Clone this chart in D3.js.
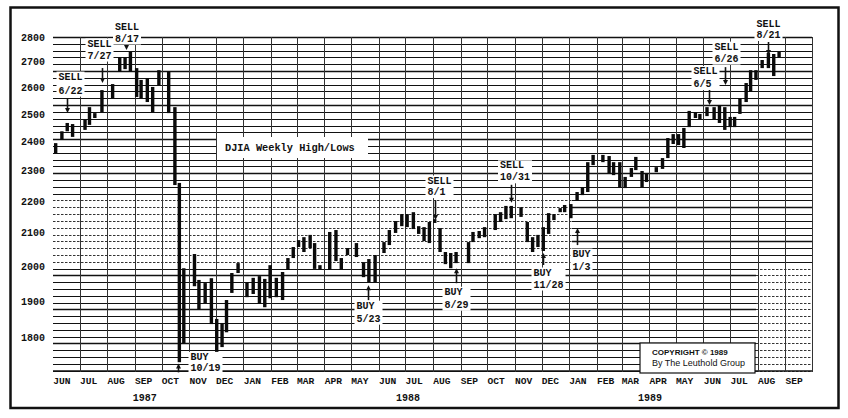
<!DOCTYPE html>
<html>
<head>
<meta charset="utf-8">
<script src="https://cdn.jsdelivr.net/npm/d3@7"></script>
<style>
  body { margin: 0; background: #fff; }
  svg text { font-family: "Liberation Mono", "DejaVu Sans Mono", monospace; font-weight: bold; fill: #111; }
</style>
</head>
<body>
<svg id="chart" width="848" height="418"></svg>
<script>
// DJIA weekly high/lows, Jun 1987 - Aug 1989 (Leuthold Group chart)

// weekly bars: date, weekly high, weekly low
const weeks = [
  '1987-06-04','1987-06-11','1987-06-17','1987-06-23','1987-07-07','1987-07-12','1987-07-18','1987-07-26',
  '1987-08-07','1987-08-15','1987-08-21','1987-08-27','1987-09-03','1987-09-08','1987-09-15','1987-09-21',
  '1987-09-28','1987-10-09','1987-10-16','1987-10-21','1987-10-26','1987-11-07','1987-11-12','1987-11-19',
  '1987-11-26','1987-12-02','1987-12-08','1987-12-13','1987-12-19','1987-12-26',
  '1988-01-05','1988-01-12','1988-01-19','1988-01-25','1988-01-31','1988-02-07','1988-02-14','1988-02-20',
  '1988-02-26','1988-03-03','1988-03-09','1988-03-16','1988-03-21','1988-03-27','1988-04-07','1988-04-14',
  '1988-04-20','1988-04-27','1988-05-07','1988-05-15','1988-05-21','1988-05-28','1988-06-07','1988-06-13',
  '1988-06-20','1988-06-27','1988-07-03','1988-07-10','1988-07-16','1988-07-22','1988-07-28','1988-08-03',
  '1988-08-09','1988-08-15','1988-08-21','1988-08-27','1988-09-10','1988-09-15','1988-09-22','1988-09-28',
  '1988-10-10','1988-10-16','1988-10-22','1988-10-28','1988-11-08','1988-11-15','1988-11-21','1988-11-27',
  '1988-12-03','1988-12-09','1988-12-15','1988-12-22','1988-12-27',
  '1989-01-03','1989-01-10','1989-01-16','1989-01-22','1989-01-28','1989-02-08','1989-02-15','1989-02-20',
  '1989-02-27','1989-03-05','1989-03-12','1989-03-17','1989-03-24','1989-03-29','1989-04-09','1989-04-16',
  '1989-04-22','1989-04-28','1989-05-04','1989-05-10','1989-05-16','1989-05-23','1989-05-28','1989-06-05',
  '1989-06-13','1989-06-19','1989-06-25','1989-07-01','1989-07-06','1989-07-12','1989-07-19','1989-07-24',
  '1989-07-30','1989-08-06','1989-08-13','1989-08-19','1989-08-25'
];
const highs = [
  2396,2438,2468,2464,2479,2526,2504,2590, 2613,2719,2719,2739,2675,2629,2636,2602,
  2667,2660,2526,2260,1994,2036,1960,1951, 1965,1851,1840,1903,1980,2009,
  1954,1966,1971,1963,2003,1966,1983,2024, 2057,2078,2087,2094,2069,2003,2103,2109,
  2024,2054,2069,2012,2021,2033,2072,2109, 2137,2159,2159,2165,2121,2118,2134,2143,
  2115,2042,2039,2042,2072,2103,2106,2118, 2159,2165,2185,2185,2181,2134,2087,2094,
  2118,2162,2159,2178,2188,
  2191,2230,2246,2330,2355,2355,2351,2330, 2330,2280,2310,2348,2300,2290,2313,2344,
  2414,2428,2428,2450,2512,2508,2501,2526, 2526,2534,2526,2490,2490,2560,2617,2667,
  2667,2707,2735,2731,2739
];
const lows = [
  2361,2407,2438,2418,2443,2461,2486,2508, 2560,2660,2671,2660,2564,2560,2545,2508,
  2609,2504,2253,1737,1786,1942,1878,1894, 1837,1760,1776,1815,1923,1980,
  1911,1920,1892,1883,1908,1911,1903,1989, 2024,2057,2042,2054,1992,1989,1989,2015,
  1989,2033,2027,1968,1954,1954,2039,2063, 2100,2121,2118,2112,2097,2075,2069,2131,
  2042,2006,1994,2009,2009,2072,2084,2087, 2109,2134,2143,2146,2150,2072,2042,2057,
  2045,2097,2140,2165,2165,
  2146,2201,2220,2230,2320,2330,2293,2286, 2246,2243,2280,2303,2246,2263,2296,2307,
  2344,2393,2389,2379,2453,2486,2482,2493, 2482,2468,2443,2453,2453,2501,2545,2583,
  2629,2675,2675,2644,2715
];

// buy / sell signals: label, date the arrow sits on, price at the arrow tip
const signalTypes = ['SELL','SELL','SELL','BUY','BUY','SELL','BUY','SELL','BUY','BUY','SELL','SELL','SELL'];
const signalLabels = ['6/22','7/27','8/17','10/19','5/23','8/1','8/29','10/31','11/28','1/3','6/5','6/26','8/21'];
const signalDates = ['1987-06-17','1987-07-26','1987-08-22','1987-10-20','1988-05-20','1988-08-03','1988-08-27',
                     '1988-10-28','1988-12-03','1989-01-10','1989-06-07','1989-06-25','1989-08-13'];
const signalLevels = [2504,2617,2747,1734,1945,2140,1994,2195,2039,2115,2534,2609,2727];

// axis labels
const yTicks = [1800,1900,2000,2100,2200,2300,2400,2500,2600,2700,2800];
const months = ['JUN','JUL','AUG','SEP','OCT','NOV','DEC','JAN','FEB','MAR','APR','MAY','JUN','JUL',
                'AUG','SEP','OCT','NOV','DEC','JAN','FEB','MAR','APR','MAY','JUN','JUL','AUG','SEP'];
const years = ['1987','1988','1989'];

// ---- layout (not data) ----
const plotLeft = 53, plotRight = 812, plotTop = 37;
const parse = d3.timeParse('%Y-%m-%d');

// arrow length, label offset from arrow, line gap
const signalLayout = {
  '6/22':  { len: 15, dx: -9,    dy: -4.5,  gap: 14 },
  '7/27':  { len: 15, dx: -15,   dy: -9.5,  gap: 12 },
  '8/17':  { len: 8,  dx: -11.5, dy: -0.5,  gap: 11.5 },
  '10/19': { len: 9,  dx: 12,    dy: -12.5, gap: 11 },
  '5/23':  { len: 15, dx: -12,   dy: 8.5,   gap: 13 },
  '8/1':   { len: 20, dx: -8,    dy: -5,    gap: 11.5 },
  '8/29':  { len: 15, dx: -12,   dy: 11.5,  gap: 13 },
  '10/31': { len: 18, dx: -11.5, dy: -4.5,  gap: 12 },
  '11/28': { len: 12, dx: -10,   dy: 10.5,  gap: 12 },
  '1/3':   { len: 17, dx: -5,    dy: 11.5,  gap: 13 },
  '6/5':   { len: 17, dx: -16,   dy: -1,    gap: 13 },
  '6/26':  { len: 18, dx: -11,   dy: -5.5,  gap: 12 },
  '8/21':  { len: 13, dx: -12,   dy: -4,    gap: 10.5 }
};
const yearLabelAt = { '1987': '1987-09-12', '1988': '1988-07-04', '1989': '1989-04-02' };

const x = d3.scaleTime()
  .domain([new Date(1987, 5, 1), new Date(1989, 9, 1)])
  .range([plotLeft, plotRight]);

const y = d3.scaleLog()
  .domain([1720, 2800])
  .range([368.9, plotTop]);

const svg = d3.select('svg#chart');
svg.append('rect').attr('width', 848).attr('height', 418).attr('fill', '#fff');

// ---- grid paper: horizontal rules at ~1% steps ----
const gridVals = d3.range(50).map(k => 2800 * Math.exp(-k / 100));
const grid = svg.append('g').attr('class', 'grid');

gridVals.forEach(function (v, k) {
  const gy = Math.round(y(v)) + 0.5;
  const heavy = (k % 5 === 0);
  let segs;
  if (gy > 196 && gy < 266) {
    segs = [[plotLeft, 572, true], [572, plotRight, false]];   // faded band in the scan
  } else if (gy >= 266) {
    segs = [[plotLeft, 756, false], [756, plotRight, true]];
  } else {
    segs = [[plotLeft, plotRight, false]];
  }
  segs.forEach(function (s) {
    grid.append('line')
      .attr('x1', s[0]).attr('x2', s[1])
      .attr('y1', gy).attr('y2', gy)
      .attr('stroke', s[2] ? '#333' : '#111')
      .attr('stroke-width', s[2] ? 1 : (heavy ? 1.6 : 1.2))
      .attr('stroke-dasharray', s[2] ? '2.5,1.5' : null);
  });
});

// bottom rule
grid.append('line')
  .attr('x1', plotLeft).attr('x2', plotRight)
  .attr('y1', 371).attr('y2', 371)
  .attr('stroke', '#111').attr('stroke-width', 1.6);

// vertical month rules
const monthLines = d3.timeMonth.range(new Date(1987, 6, 1), new Date(1989, 9, 2));
grid.selectAll('line.month')
  .data(monthLines)
  .enter()
  .append('line')
  .attr('class', 'month')
  .attr('x1', d => Math.round(x(d)) + 0.5)
  .attr('x2', d => Math.round(x(d)) + 0.5)
  .attr('y1', plotTop)
  .attr('y2', 372)
  .attr('stroke', '#333')
  .attr('stroke-width', 1);

// ---- title ----
svg.append('rect')
  .attr('x', 217).attr('y', 137).attr('width', 151).attr('height', 21)
  .attr('fill', '#fff');
svg.append('text')
  .attr('x', 225).attr('y', 151)
  .attr('font-size', 10.3)
  .text('DJIA Weekly High/Lows');

// ---- copyright box ----
svg.append('rect')
  .attr('x', 640).attr('y', 343).attr('width', 115).attr('height', 30)
  .attr('fill', '#fff').attr('stroke', '#111').attr('stroke-width', 1.2);
svg.append('text')
  .attr('x', 652).attr('y', 354.5)
  .style('font-family', '"Liberation Sans", Arial, sans-serif')
  .attr('font-size', 8)
  .text('COPYRIGHT \u00A9 1989');
svg.append('text')
  .attr('x', 652).attr('y', 366)
  .style('font-family', '"Liberation Sans", Arial, sans-serif')
  .style('font-weight', 'normal')
  .attr('font-size', 9)
  .text('By The Leuthold Group');

// ---- weekly bars ----
const bars = weeks.map((w, i) => ({ date: parse(w), hi: highs[i], lo: lows[i] }));

svg.append('g')
  .selectAll('rect')
  .data(bars)
  .enter()
  .append('rect')
  .attr('x', d => x(d.date) - 1.7)
  .attr('width', 3.4)
  .attr('y', d => y(d.hi))
  .attr('height', d => Math.max(2, y(d.lo) - y(d.hi)))
  .attr('fill', '#0a0a0a');

// ---- signals ----
const signals = signalLabels.map((s, i) => ({
  type: signalTypes[i], label: s, date: parse(signalDates[i]), level: signalLevels[i]
}));

const sig = svg.append('g').attr('class', 'signals');

signals.forEach(function (d) {
  const lay = signalLayout[d.label];
  const ax = Math.round(x(d.date)) + 0.5;
  const tip = y(d.level);
  const g = sig.append('g');
  let tail, b1, b2;
  if (d.type === 'SELL') {
    tail = tip - lay.len;
    b2 = tail + lay.dy;
    b1 = b2 - lay.gap;
    g.append('line').attr('x1', ax).attr('x2', ax).attr('y1', tail).attr('y2', tip - 3)
      .attr('stroke', '#111').attr('stroke-width', 1.6);
    g.append('path')
      .attr('d', 'M' + (ax - 2.5) + ',' + (tip - 5) + 'L' + (ax + 2.5) + ',' + (tip - 5) + 'L' + ax + ',' + tip + 'Z')
      .attr('fill', '#111');
  } else {
    tail = tip + lay.len;
    b1 = tail + lay.dy;
    b2 = b1 + lay.gap;
    g.append('line').attr('x1', ax).attr('x2', ax).attr('y1', tail).attr('y2', tip + 3)
      .attr('stroke', '#111').attr('stroke-width', 1.6);
    g.append('path')
      .attr('d', 'M' + (ax - 2.5) + ',' + (tip + 5) + 'L' + (ax + 2.5) + ',' + (tip + 5) + 'L' + ax + ',' + tip + 'Z')
      .attr('fill', '#111');
  }
  const lbl = g.append('g');
  const bg = lbl.append('rect').attr('fill', '#fff');
  lbl.append('text').attr('x', ax + lay.dx).attr('y', b1).attr('font-size', 10).text(d.type);
  lbl.append('text').attr('x', ax + lay.dx).attr('y', b2).attr('font-size', 10).text(d.label);
  const bb = lbl.node().getBBox();
  bg.attr('x', bb.x - 2).attr('y', bb.y).attr('width', bb.width + 4).attr('height', bb.height);
});

// ---- y axis labels ----
svg.append('g')
  .selectAll('text')
  .data(yTicks)
  .enter()
  .append('text')
  .attr('x', 45)
  .attr('y', d => y(d))
  .attr('dy', '0.35em')
  .attr('text-anchor', 'end')
  .attr('font-size', 10)
  .text(d => d);

// ---- x axis labels ----
const monthStarts = d3.timeMonth.range(new Date(1987, 5, 1), new Date(1989, 8, 2));
svg.append('g')
  .selectAll('text')
  .data(monthStarts)
  .enter()
  .append('text')
  .attr('x', d => x(d3.timeDay.offset(d, 10)))
  .attr('y', 383.5)
  .attr('text-anchor', 'middle')
  .attr('font-size', 9.6)
  .text((d, i) => months[i]);

svg.append('g')
  .selectAll('text')
  .data(years)
  .enter()
  .append('text')
  .attr('x', d => x(parse(yearLabelAt[d])))
  .attr('y', 400.5)
  .attr('text-anchor', 'middle')
  .attr('font-size', 10)
  .text(d => d);

// ---- frame ----
svg.append('rect')
  .attr('x', 10.5).attr('y', 7.5).attr('width', 828).attr('height', 400.5)
  .attr('fill', 'none').attr('stroke', '#111').attr('stroke-width', 2.5);
</script>
</body>
</html>
